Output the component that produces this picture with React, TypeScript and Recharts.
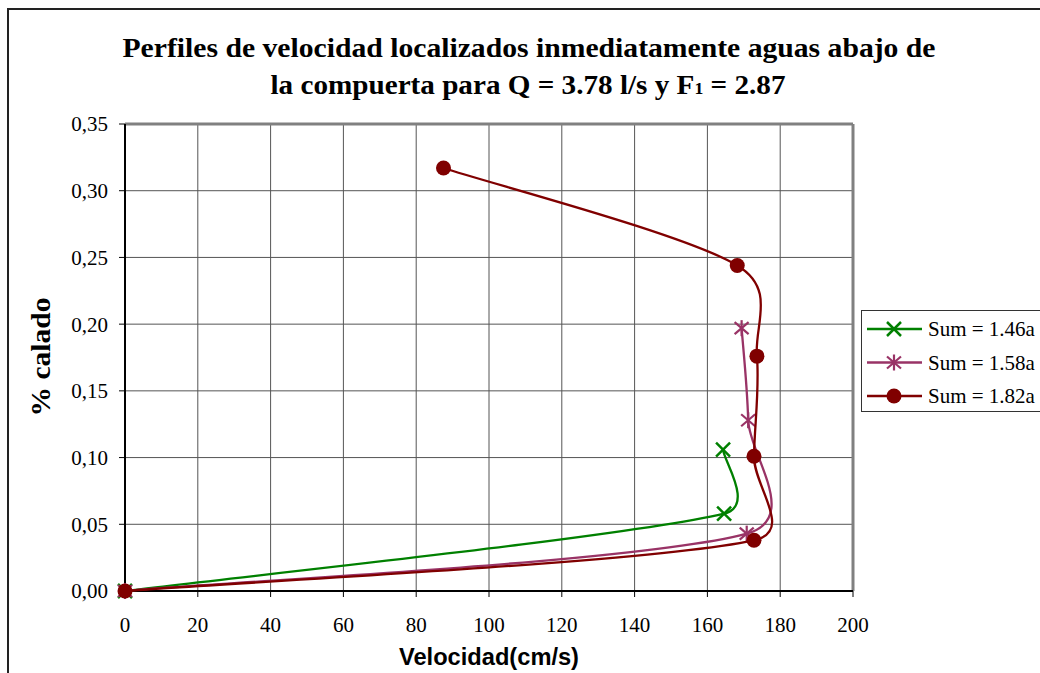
import React from 'react';
import { ScatterChart, Scatter, XAxis, YAxis, CartesianGrid, ReferenceLine } from 'recharts';

// velocity (cm/s) vs relative depth, one pair of arrays per profile
const xTicks = [0, 20, 40, 60, 80, 100, 120, 140, 160, 180, 200];
const yTicks = [0, 0.05, 0.1, 0.15, 0.2, 0.25, 0.3, 0.35];

const sum146Vel = [0, 164.6, 164.3];
const sum146Depth = [0, 0.058, 0.106];

const sum158Vel = [0, 170.8, 171.2, 169.4];
const sum158Depth = [0, 0.043, 0.128, 0.197];

const sum182Vel = [0, 172.8, 172.8, 173.6, 168.2, 87.5];
const sum182Depth = [0, 0.038, 0.101, 0.176, 0.244, 0.317];

const seriesNames = ['Sum = 1.46a', 'Sum = 1.58a', 'Sum = 1.82a'];
const seriesColors = ['#008000', '#993366', '#800000'];

const toPoints = (vel: number[], depth: number[]) => vel.map((v, i) => ({ x: v, y: depth[i] }));

type Pt = { x: number; y: number };

// Excel-like smoothed line: bezier arms capped at half the segment length
function smoothPath(pts: Pt[]): string {
  if (!pts || pts.length === 0) return '';
  const dist = (a: Pt, b: Pt) => Math.hypot(b.x - a.x, b.y - a.y);
  let d = `M${pts[0].x},${pts[0].y}`;
  for (let i = 0; i < pts.length - 1; i++) {
    const p0 = pts[Math.max(i - 1, 0)];
    const p1 = pts[i];
    const p2 = pts[i + 1];
    const p3 = pts[Math.min(i + 2, pts.length - 1)];
    const d12 = dist(p1, p2);
    const d02 = dist(p0, p2);
    const d13 = dist(p1, p3);
    const f1 = d02 / 6 < d12 / 2 ? 1 / 6 : d12 / 2 / d02;
    const f2 = d13 / 6 < d12 / 2 ? 1 / 6 : d12 / 2 / d13;
    const c1x = p1.x + f1 * (p2.x - p0.x);
    const c1y = p1.y + f1 * (p2.y - p0.y);
    const c2x = p2.x - f2 * (p3.x - p1.x);
    const c2y = p2.y - f2 * (p3.y - p1.y);
    d += ` C${c1x},${c1y} ${c2x},${c2y} ${p2.x},${p2.y}`;
  }
  return d;
}

function Marker({ kind, cx, cy }: { kind: number; cx: number; cy: number }) {
  const c = seriesColors[kind];
  if (kind === 0) {
    return (
      <g stroke={c} strokeWidth={2.5}>
        <line x1={cx - 7} y1={cy - 7} x2={cx + 7} y2={cy + 7} />
        <line x1={cx - 7} y1={cy + 7} x2={cx + 7} y2={cy - 7} />
      </g>
    );
  }
  if (kind === 1) {
    return (
      <g stroke={c} strokeWidth={2.2}>
        <line x1={cx - 7} y1={cy - 6} x2={cx + 7} y2={cy + 6} />
        <line x1={cx - 7} y1={cy + 6} x2={cx + 7} y2={cy - 6} />
        <line x1={cx} y1={cy - 8} x2={cx} y2={cy + 8} />
      </g>
    );
  }
  return <circle cx={cx} cy={cy} r={7.5} fill={c} />;
}

const tickFont = { fill: '#000', fontSize: 21, fontFamily: '"Liberation Serif", serif' };

export default function App() {
  const series = [
    toPoints(sum146Vel, sum146Depth),
    toPoints(sum158Vel, sum158Depth),
    toPoints(sum182Vel, sum182Depth),
  ];

  return (
    <div style={{ position: 'absolute', left: 0, top: 0, width: 1040, height: 673, overflow: 'hidden', background: '#fff' }}>
      <div
        style={{
          position: 'absolute',
          left: 7,
          top: 8,
          width: 1100,
          height: 700,
          borderLeft: '2px solid #222',
          borderTop: '2px solid #222',
        }}
      />
      <ScatterChart
        width={1040}
        height={673}
        margin={{ top: 124, right: 187, bottom: 22, left: 65 }}
        style={{ position: 'absolute', left: 0, top: 0 }}
      >
        <CartesianGrid stroke="#555" strokeWidth={1} />
        <XAxis
          type="number"
          dataKey="x"
          domain={[0, 200]}
          ticks={xTicks}
          interval={0}
          height={60}
          tick={tickFont}
          tickSize={6}
          tickMargin={20}
          tickLine={{ stroke: '#000' }}
          axisLine={{ stroke: '#000', strokeWidth: 2 }}
        />
        <YAxis
          type="number"
          dataKey="y"
          domain={[0, 0.35]}
          ticks={yTicks}
          interval={0}
          width={60}
          tick={tickFont}
          tickSize={6}
          tickMargin={11}
          tickLine={{ stroke: '#000' }}
          axisLine={{ stroke: '#000', strokeWidth: 2 }}
          tickFormatter={(v: number) => v.toFixed(2).replace('.', ',')}
        />
        <ReferenceLine y={0.35} stroke="#808080" strokeWidth={3} />
        <ReferenceLine x={200} stroke="#808080" strokeWidth={3} />
        {series.map((pts, k) => (
          <Scatter
            key={seriesNames[k]}
            name={seriesNames[k]}
            data={pts}
            fill={seriesColors[k]}
            isAnimationActive={false}
            line={(p: any) => (
              <path d={smoothPath(p.points)} fill="none" stroke={seriesColors[k]} strokeWidth={2.3} />
            )}
            lineType="joint"
            shape={(p: any) => <Marker kind={k} cx={p.cx} cy={p.cy} />}
          />
        ))}
      </ScatterChart>

      <svg width={1040} height={673} style={{ position: 'absolute', left: 0, top: 0, pointerEvents: 'none' }}>
        <g fontFamily='"Liberation Serif", serif' fontWeight="bold" fontSize={28} fill="#000" textAnchor="middle">
          <text x={529} y={57} textLength={813} lengthAdjust="spacingAndGlyphs">
            Perfiles de velocidad localizados inmediatamente aguas abajo de
          </text>
          <text x={528} y={94} textLength={515} lengthAdjust="spacingAndGlyphs">
            la compuerta para Q = 3.78 l/s y F<tspan fontSize={17}>1</tspan> = 2.87
          </text>
        </g>
        <text
          x={489}
          y={665}
          textAnchor="middle"
          fontFamily='"Liberation Sans", Arial, sans-serif'
          fontWeight="bold"
          fontSize={23}
          textLength={180}
          lengthAdjust="spacingAndGlyphs"
        >
          Velocidad(cm/s)
        </text>
        <text
          transform="translate(50,357) rotate(-90)"
          textAnchor="middle"
          fontFamily='"Liberation Serif", serif'
          fontWeight="bold"
          fontSize={28}
          textLength={119}
          lengthAdjust="spacingAndGlyphs"
        >
          % calado
        </text>

        <rect x={861.5} y={310.5} width={200} height={101} fill="#fff" stroke="#333" strokeWidth={1} />
        {seriesNames.map((name, k) => {
          const cy = 329 + k * 33.5;
          return (
            <g key={name}>
              <line x1={867} y1={cy} x2={922} y2={cy} stroke={seriesColors[k]} strokeWidth={2.3} />
              <Marker kind={k} cx={894} cy={cy} />
              <text x={928} y={cy + 7} fontFamily='"Liberation Serif", serif' fontSize={21} fill="#000">
                {name}
              </text>
            </g>
          );
        })}
      </svg>
    </div>
  );
}
